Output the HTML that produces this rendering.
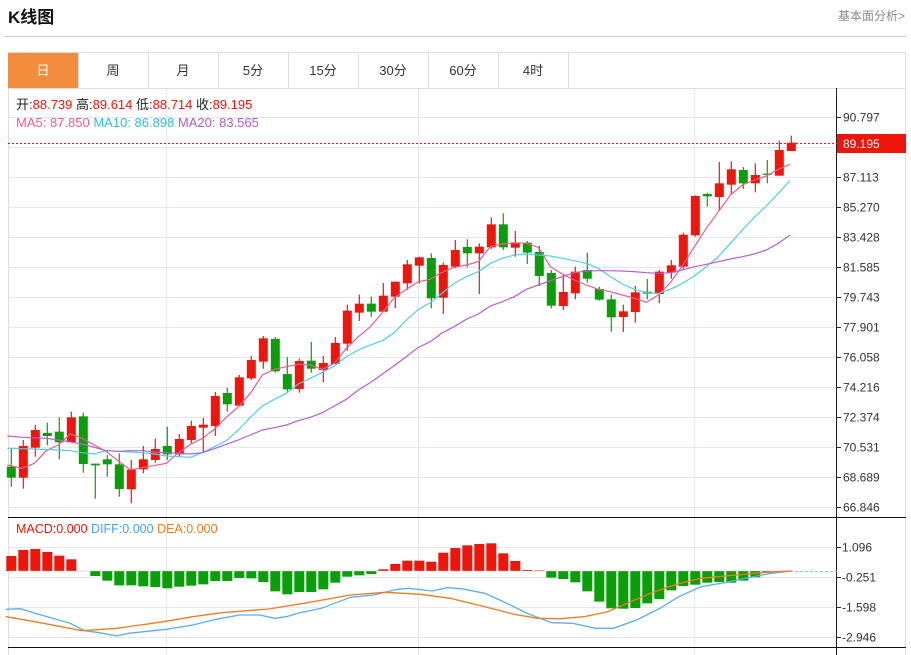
<!DOCTYPE html>
<html><head><meta charset="utf-8"><style>
body{margin:0;width:911px;height:655px;overflow:hidden;background:#fff;font-family:"Liberation Sans","Noto Sans CJK SC",sans-serif;}
svg{position:absolute;left:0;top:0}
</style></head><body>
<svg id="s" width="911" height="655" xmlns="http://www.w3.org/2000/svg" font-family="Liberation Sans, Noto Sans CJK SC, sans-serif"></svg>
<script>
const s=document.getElementById('s');let h='';
function L(x1,y1,x2,y2,c,w,d){h+=`<line x1="${x1}" y1="${y1}" x2="${x2}" y2="${y2}" stroke="${c}" stroke-width="${w||1}" ${d?`stroke-dasharray="${d}"`:''}/>`;}
function T(x,y,t,c,sz,extra){h+=`<text x="${x}" y="${y}" fill="${c}" font-size="${sz}" ${extra||''}>${t}</text>`;}
T(8,23,'K线图','#111',17,'font-weight="bold"');
T(838,20,'基本面分析&gt;','#888',12);
L(4,36.5,906,36.5,'#ccc',1);
h+=`<rect x="8.5" y="52.5" width="897" height="610" fill="none" stroke="#ddd"/>`;
h+=`<rect x="8" y="53" width="70" height="35" fill="#f38d3e"/>`;
const tabs=['日','周','月','5分','15分','30分','60分','4时'];
tabs.forEach((t,i)=>{const x=8+i*70;if(i>0)L(x+70.5,53,x+70.5,88,'#ddd');T(x+35,75,t,i==0?'#fff':'#333',13,'text-anchor="middle"');});
L(78.5,53,78.5,88,'#ddd');
L(8,88.5,906,88.5,'#ddd');
[117,147,177,207,237,267,297,327,357,387,417,447,477,507].forEach(y=>L(8,y+.5,837,y+.5,'#e4e9ef'));
[547,577,607,637].forEach(y=>L(8,y+.5,837,y+.5,'#e4e9ef'));
[166,418,694].forEach(x=>L(x+.5,89,x+.5,655,'#e4e9ef'));
L(836.5,88,836.5,655,'#222');
const lab=['90.797','89.195','87.113','85.270','83.428','81.585','79.743','77.901','76.058','74.216','72.374','70.531','68.689','66.846'];
const ly=[117,null,177,207,237,267,297,327,357,387,417,447,477,507];
lab.forEach((t,i)=>{if(ly[i]==null)return;L(837,ly[i]+.5,841,ly[i]+.5,'#222');T(843,ly[i]+4.5,t,'#333',12);});
[['1.096',547],['-0.251',577],['-1.598',607],['-2.946',637]].forEach(a=>{L(837,a[1]+.5,841,a[1]+.5,'#222');T(842,a[1]+4.5,a[0],'#333',12);});
L(8,517.5,906,517.5,'#111');L(8,647.5,906,647.5,'#111');
const C=[
['g',1010,1043,955,1070],['r',948,1043,930,1076],['r',900,953,885,980],['g',909,918,878,946],['g',905,937,862,988],['r',862,937,845,937],['g',859,1002,848,1028],['g',1001,1006,1001,1106],['g',988,1003,975,1040],['g',1003,1077,970,1100],['r',1019,1078,990,1120],['r',988,1018,948,1030],['r',957,990,926,998],['g',948,973,890,990],['r',927,973,912,980],['r',888,930,872,940],['r',884,893,864,968],['r',798,888,786,918],['g',789,823,773,845],['r',742,827,735,830],['r',690,745,678,750],['r',625,695,618,716],['g',627,724,621,728],['g',732,778,681,785],['r',693,777,686,788],['g',692,716,636,728],['r',699,720,678,757],['r',639,702,621,702],['r',542,641,524,662],['r',521,548,494,573],['g',521,545,500,560],['r',497,545,459,545],['r',455,500,455,534],['r',403,460,390,480],['r',382,407,380,460],['g',384,505,370,535],['r',405,503,398,552],
['r',360,410,330,415],['g',351,370,328,412],['r',350,370,340,492],['r',283,352,262,358],['g',283,352,250,360],['r',340,353,303,380],['g',338,368,333,402],['g',366,438,348,468],['g',429,527,420,535],['r',486,528,432,540],['r',425,490,410,508],['g',420,446,368,458],['g',477,509,470,512],['g',508,562,494,605],['r',544,561,524,606],['r',487,546,468,578],['g',485,491,447,508],['r',425,492,420,520],['r',406,428,390,446],['r',314,410,308,418],['r',198,316,196,320],['g',192,199,188,230],['r',160,201,96,243],['r',118,164,94,192],['g',120,160,111,177],['r',135,160,100,187],['g',131,134,90,160],['r',60,137,32,137],['r',38,63,17,63]];
const cx=i=>11.3+i*12;
const RED='#f0150a',GRN='#0a9e0a';
C.forEach((c,i)=>{const x=cx(i),col=c[0]=='r'?RED:GRN;const Y=v=>130+v/3;
L(x,Y(c[3]),x,Y(c[4]),col,1.2);const t=Y(c[1]),b=Y(c[2]);h+=`<rect x="${x-4.5}" y="${t}" width="9" height="${Math.max(b-t,1.2)}" fill="${col}"/>`;});
function P(a,b,col){let pts=a.map(p=>[p[0]/3,130+p[1]/3]).concat(b.map(p=>[440+p[0]/3,130+p[1]/3]));h+=`<polyline points="${pts.map(p=>p.join(',')).join(' ')}" fill="none" stroke="${col}" stroke-width="1.2"/>`;}
P([[22,1005],[67,1015],[103,1000],[139,962],[175,945],[211,912],[247,925],[319,965],[391,1020],[427,1013],[499,1000],[535,968],[571,943],[607,925],[643,898],[679,862],[715,830],[751,790],[787,735],[823,718],[859,710],[895,703],[931,705],[967,718],[1003,700],[1039,655],[1075,620],[1111,590],[1147,548],[1183,503],[1219,478],[1255,455],[1291,448],[1320,430]],
[[0,430],[42,412],[79,405],[115,395],[151,350],[187,342],[223,338],[259,340],[295,352],[331,410],[367,432],[403,450],[439,465],[475,478],[511,485],[547,495],[583,505],[619,517],[655,495],[691,458],[727,408],[763,350],[799,295],[835,245],[871,195],[907,165],[943,150],[979,138],[1015,118],[1050,103]],'#ec5e8d');
P([[22,955],[103,957],[175,960],[211,962],[247,968],[283,972],[319,962],[391,966],[427,968],[463,972],[499,978],[571,982],[607,968],[643,950],[679,932],[715,900],[751,862],[787,828],[823,808],[859,790],[895,762],[931,745],[967,727],[1003,708],[1039,680],[1075,660],[1111,645],[1147,632],[1183,608],[1219,570],[1255,538],[1291,518],[1320,495]],
[[0,495],[42,460],[79,440],[115,425],[151,400],[187,385],[223,375],[259,372],[295,375],[331,378],[367,385],[403,392],[439,400],[475,415],[511,440],[547,462],[583,478],[619,488],[655,490],[691,478],[727,460],[763,438],[799,410],[835,380],[871,340],[907,300],[943,262],[979,228],[1015,190],[1050,152]],'#4fd0e2');
P([[22,918],[67,922],[139,925],[175,930],[247,942],[319,962],[355,964],[391,962],[427,962],[463,966],[499,968],[535,970],[571,972],[607,968],[643,956],[679,943],[715,930],[751,915],[787,900],[823,893],[859,885],[895,872],[931,862],[967,848],[1003,828],[1039,808],[1075,780],[1111,758],[1147,732],[1183,707],[1219,680],[1255,652],[1291,635],[1320,614]],
[[0,612],[42,590],[79,568],[115,552],[151,528],[187,515],[223,500],[259,478],[295,465],[331,452],[367,440],[403,428],[439,423],[475,422],[511,422],[547,423],[583,425],[619,428],[655,430],[691,428],[727,420],[763,410],[799,403],[835,395],[871,387],[907,380],[943,372],[979,360],[1015,340],[1050,315]],'#b760cf');
L(8,143.5,837,143.5,'#f0150a',1,'2,2');
h+=`<rect x="837" y="134" width="69" height="19" fill="#f0150a"/>`;T(843,148,'89.195','#fff',12);
h+=`<text x="16" y="109" font-size="13" fill="#222">开:<tspan fill="#f0150a">88.739</tspan>  高:<tspan fill="#f0150a">89.614</tspan>  低:<tspan fill="#f0150a">88.714</tspan>  收:<tspan fill="#f0150a">89.195</tspan></text>`;
h+=`<text x="16" y="127" font-size="13"><tspan fill="#ec5e8d">MA5: 87.850</tspan>  <tspan fill="#30bfd8">MA10: 86.898</tspan>  <tspan fill="#b55ccd">MA20: 83.565</tspan></text>`;
h+=`<text x="16" y="533" font-size="12.5"><tspan fill="#f0150a">MACD:0.000</tspan>  <tspan fill="#4aa3f0">DIFF:0.000</tspan>  <tspan fill="#f27a1a">DEA:0.000</tspan></text>`;
const M=[138,120,117,126,137,148,183,198,212,226,226,229,231,235,230,227,223,213,213,204,205,216,244,253,246,246,238,218,200,196,192,178,162,152,152,155,128,114,106,102,100,130,153,180,181,203,207,217,244,275,295,296,294,280,267,241,228,224,218,216,218,212,202,188,184,183];
const Z=571;
M.forEach((v,i)=>{const y=510+v/3,x=cx(i);if(Math.abs(y-Z)<0.6)return;const col=y<Z?RED:GRN;const t=Math.min(y,Z),b=Math.max(y,Z);h+=`<rect x="${x-5}" y="${t}" width="10" height="${b-t}" fill="${col}"/>`;});
L(8,Z,795,Z,'#bbb',0.6);
L(790,Z+.5,837,Z+.5,'#8cc8e8',1,'3,2');
function Q(a,col){h+=`<polyline points="${a.map(p=>(p[0]/1.712).toFixed(1)+','+(510+p[1]/3).toFixed(1)).join(' ')}" fill="none" stroke="${col}" stroke-width="1.3"/>`;}
Q([[10,298],[35,296],[60,310],[90,325],[120,340],[145,362],[170,368],[200,378],[220,370],[285,358],[330,345],[370,328],[410,315],[445,315],[470,325],[490,320],[510,310],[550,295],[580,275],[600,262],[640,255],[680,238],[700,235],[740,243],[765,233],[790,236],[830,250],[870,282],[905,312],[945,338],[980,340],[1020,355],[1050,355],[1090,330],[1130,295],[1160,262],[1200,230],[1240,218],[1280,203],[1320,190],[1355,183]],'#5aaef0');
Q([[10,320],[60,335],[140,362],[200,355],[280,335],[330,320],[380,308],[460,297],[520,280],[600,255],[660,247],[720,253],[770,265],[830,290],[880,313],[920,325],[960,326],[1000,320],[1040,305],[1080,275],[1120,245],[1160,222],[1200,205],[1260,195],[1320,186],[1355,183]],'#f47a1e');
h+=`<text x="16" y="665" font-size="12.5"><tspan fill="#4fd0e2">MA5:0.000</tspan>  <tspan fill="#8050c8">MA10:0.000</tspan>  <tspan fill="#2aa02a">MA20:0.000</tspan></text>`;
s.innerHTML=h;
</script>
</body></html>
